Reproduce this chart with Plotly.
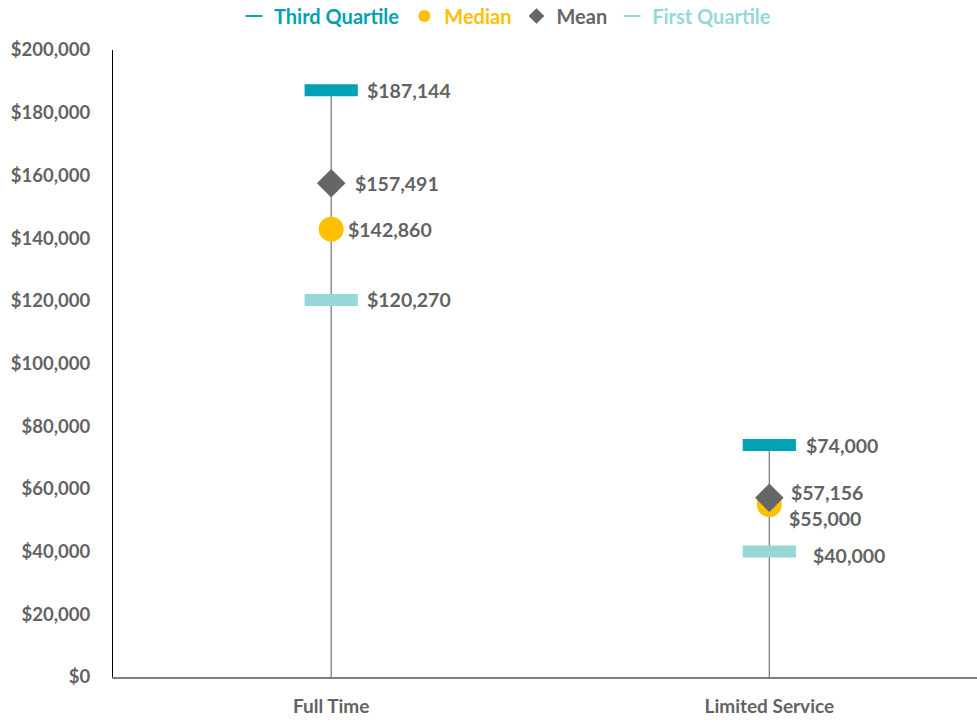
import plotly.graph_objects as go

categories = ["Full Time", "Limited Service"]
third_quartile = [187144, 74000]
median = [142860, 55000]
mean = [157491, 57156]
first_quartile = [120270, 40000]
y_ticks = [0, 20000, 40000, 60000, 80000, 100000, 120000, 140000, 160000, 180000, 200000]

C_Q3 = "#00A2B3"
C_MED = "#FFC000"
C_MEAN = "#666666"
C_Q1 = "#96D8D6"
C_TXT = "#636363"
FONT = "Lato"

fig = go.Figure()

# vertical stems from 0 to third quartile
for c, q3 in zip(categories, third_quartile):
    fig.add_trace(go.Scatter(x=[c, c], y=[0, q3], mode="lines",
                             line=dict(color="#7F7F7F", width=1.3),
                             showlegend=False, hoverinfo="skip"))

def lg(name, color):
    return f"<span style='color:{color}'><b>{name}</b></span>"

fig.add_trace(go.Scatter(x=categories, y=third_quartile, mode="markers",
                         name=lg("Third Quartile", C_Q3),
                         marker=dict(symbol="line-ew", size=38, color=C_Q3,
                                     line=dict(color=C_Q3, width=12))))
fig.add_trace(go.Scatter(x=categories, y=median, mode="markers",
                         name=lg("Median", C_MED),
                         marker=dict(symbol="circle", size=25, color=C_MED)))
fig.add_trace(go.Scatter(x=categories, y=mean, mode="markers",
                         name=lg("Mean", C_MEAN),
                         marker=dict(symbol="diamond", size=22, color=C_MEAN)))
fig.add_trace(go.Scatter(x=categories, y=first_quartile, mode="markers",
                         name=lg("First Quartile", C_Q1),
                         marker=dict(symbol="line-ew", size=38, color=C_Q1,
                                     line=dict(color=C_Q1, width=12))))

# data labels (offsets in pixels)
offsets = {
    "q3": [(34, 0), (35, 0)],
    "med": [(15, 0), (18, -14)],
    "mean": [(22, 0), (20, 5)],
    "q1": [(34, 0), (42, -4)],
}
series = {"q3": third_quartile, "med": median, "mean": mean, "q1": first_quartile}
for key, vals in series.items():
    for i, (c, v) in enumerate(zip(categories, vals)):
        dx, dy = offsets[key][i]
        fig.add_annotation(x=c, y=v, text=f"<b>${v:,.0f}</b>", showarrow=False,
                           xanchor="left", yanchor="middle", xshift=dx, yshift=dy,
                           font=dict(family=FONT, size=19.5, color=C_TXT))

W, H = 977, 720
fig.update_layout(
    width=W, height=H,
    margin=dict(l=113, r=0, t=50, b=43, autoexpand=False),
    plot_bgcolor="white", paper_bgcolor="white",
    font=dict(family=FONT, size=18, color=C_TXT),
    legend=dict(orientation="h", x=505 / W, xref="container", xanchor="center",
                y=1 - 16 / H, yanchor="middle", yref="container",
                font=dict(family=FONT, size=20), itemsizing="constant",
                itemwidth=30, bgcolor="rgba(0,0,0,0)"),
    showlegend=True,
)
fig.update_xaxes(type="category", range=[-0.498, 1.474], showgrid=False, zeroline=False,
                 showline=True, linecolor="#7F7F7F", linewidth=2, ticks="",
                 automargin=False, ticklabelstandoff=11,
                 tickfont=dict(family=FONT, size=19, color=C_TXT),
                 tickprefix="<b>", ticksuffix="</b>")
fig.update_yaxes(range=[0, 200000], tickvals=y_ticks,
                 ticktext=[f"<b>${t:,.0f}</b>" for t in y_ticks],
                 showgrid=False, zeroline=False, showline=True, linecolor="black",
                 linewidth=1, ticks="", ticklabelstandoff=18, automargin=False,
                 tickfont=dict(family=FONT, size=18.5, color=C_TXT))

fig.write_html("out.html", config={"displayModeBar": False},
               post_script="document.body.style.margin='0';")
